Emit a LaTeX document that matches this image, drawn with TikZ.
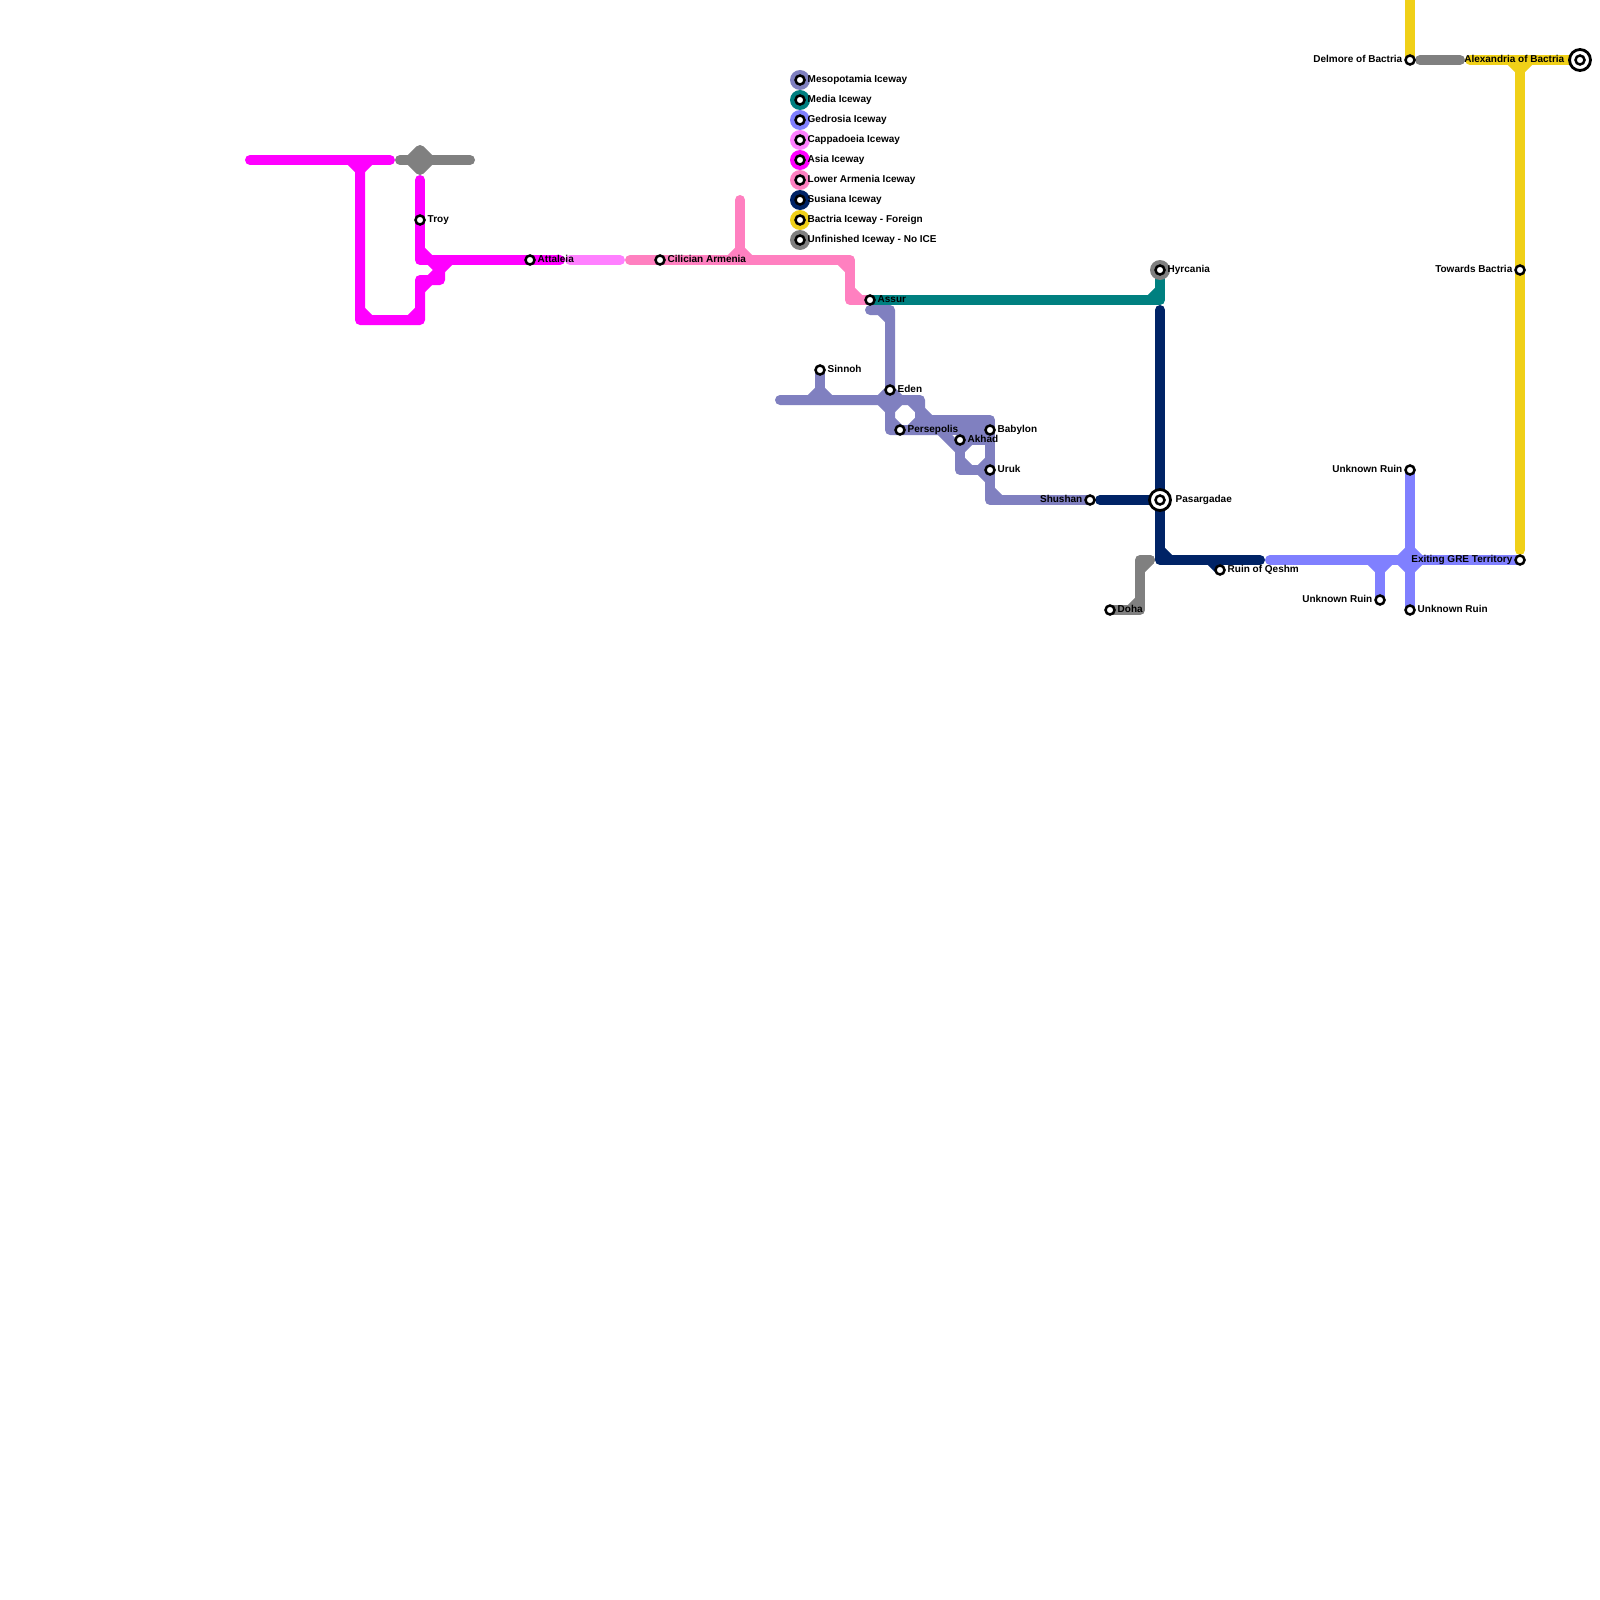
\documentclass[tikz,border=0pt]{standalone}
\usepackage{fontspec}
\setsansfont{Liberation Sans}
\usetikzlibrary{backgrounds, positioning}
\definecolor{mesopotamia}{HTML}{8080C0}
\definecolor{media}{HTML}{008080}
\definecolor{gedrosia}{HTML}{8080FF}
\definecolor{cappadocia}{HTML}{FF80FF}
\definecolor{asia}{HTML}{FF00FF}
\definecolor{armenia}{HTML}{FF80C0}
\definecolor{susiana}{HTML}{002366}
\definecolor{bactria}{HTML}{F0D018}
\definecolor{unfinished}{HTML}{808080}

\begin{document}
\begin{tikzpicture}[
  x=1pt, y=-1pt,
  every node/.style={font=\fontsize{10}{12}\selectfont\sffamily\bfseries, text=black},
  stn/.style={circle, draw=black, fill=white, line width=2.5pt, inner sep=0pt, minimum size=9pt},
  hub/.style={circle, draw=black, fill=white, line width=2.8pt, inner sep=0pt, minimum size=21pt},
  ring/.style={circle, fill=#1, inner sep=0pt, outer sep=0pt, minimum size=20pt},
  rlab/.style={anchor=base west, inner sep=0pt, xshift=7.5pt, yshift=-2.8pt},
  llab/.style={anchor=base east, inner sep=0pt, xshift=-7.5pt, yshift=-2.8pt},
  track/.style={draw=#1, line width=10pt, line cap=round, line join=round}
]
\useasboundingbox (0,0) rectangle (1600,1600);

% legend
\node[ring=mesopotamia] (r1) at (800,80) {};
\node[ring=media,       below=0pt of r1] (r2) {};
\node[ring=gedrosia,    below=0pt of r2] (r3) {};
\node[ring=cappadocia,  below=0pt of r3] (r4) {};
\node[ring=asia,        below=0pt of r4] (r5) {};
\node[ring=armenia,     below=0pt of r5] (r6) {};
\node[ring=susiana,     below=0pt of r6] (r7) {};
\node[ring=bactria,     below=0pt of r7] (r8) {};
\node[ring=unfinished,  below=0pt of r8] (r9) {};
\node[stn] (k1) at (r1) {}; \node[rlab] (t1) at (k1) {Mesopotamia Iceway};
\node[stn] (k2) at (r2) {}; \node[rlab] (t2) at (k2) {Media Iceway};
\node[stn] (k3) at (r3) {}; \node[rlab] (t3) at (k3) {Gedrosia Iceway};
\node[stn] (k4) at (r4) {}; \node[rlab] (t4) at (k4) {Cappadoeia Iceway};
\node[stn] (k5) at (r5) {}; \node[rlab] (t5) at (k5) {Asia Iceway};
\node[stn] (k6) at (r6) {}; \node[rlab] (t6) at (k6) {Lower Armenia Iceway};
\node[stn] (k7) at (r7) {}; \node[rlab] (t7) at (k7) {Susiana Iceway};
\node[stn] (k8) at (r8) {}; \node[rlab] (t8) at (k8) {Bactria Iceway - Foreign};
\node[stn] (k9) at (r9) {}; \node[rlab] (t9) at (k9) {Unfinished Iceway - No ICE};

% stations
\node[stn] (troy) at (420,220) {};       \node[rlab] (troyl) at (troy) {Troy};
\node[stn] (attaleia) at (530,260) {};   \node[rlab] (attaleial) at (attaleia) {Attaleia};
\node[stn] (cilician) at (660,260) {};   \node[rlab] (cilicianl) at (cilician) {Cilician Armenia};
\node[stn] (assur) at (870,300) {};      \node[rlab] (assurl) at (assur) {Assur};
\node[stn] (sinnoh) at (820,370) {};     \node[rlab] (sinnohl) at (sinnoh) {Sinnoh};
\node[stn] (eden) at (890,390) {};       \node[rlab] (edenl) at (eden) {Eden};
\node[stn] (persepolis) at (900,430) {}; \node[rlab] (persepolisl) at (persepolis) {Persepolis};
\node[stn] (akhad) at (960,440) {};      \node[rlab] (akhadl) at (akhad) {Akhad};
\node[stn] (babylon) at (990,430) {};    \node[rlab] (babylonl) at (babylon) {Babylon};
\node[stn] (uruk) at (990,470) {};       \node[rlab] (urukl) at (uruk) {Uruk};
\node[stn] (shushan) at (1090,500) {};   \node[llab] (shushanl) at (shushan) {Shushan};
\node[ring=unfinished] (hyrcaniar) at (1160,270) {};
\node[stn] (hyrcania) at (hyrcaniar) {}; \node[rlab] (hyrcanial) at (hyrcania) {Hyrcania};
\node[hub] (pasargadaeh) at (1160,500) {};
\node[stn] (pasargadae) at (pasargadaeh) {};
\node[rlab, xshift=8pt] (pasargadael) at (pasargadae) {Pasargadae};
\node[stn] (doha) at (1110,610) {};      \node[rlab] (dohal) at (doha) {Doha};
\node[stn] (qeshm) at (1220,570) {};     \node[rlab] (qeshml) at (qeshm) {Ruin of Qeshm};
\node[stn] (ruina) at (1410,470) {};     \node[llab] (ruinal) at (ruina) {Unknown Ruin};
\node[stn] (ruinb) at (1380,600) {};     \node[llab] (ruinbl) at (ruinb) {Unknown Ruin};
\node[stn] (ruinc) at (1410,610) {};     \node[rlab] (ruincl) at (ruinc) {Unknown Ruin};
\node[stn] (exiting) at (1520,560) {};   \node[llab] (exitingl) at (exiting) {Exiting GRE Territory};
\node[stn] (towards) at (1520,270) {};   \node[llab] (towardsl) at (towards) {Towards Bactria};
\node[stn] (delmore) at (1410,60) {};    \node[llab] (delmorel) at (delmore) {Delmore of Bactria};
\node[hub] (alexandriah) at (1580,60) {};
\node[stn] (alexandria) at (alexandriah) {};
\node[llab, xshift=-8pt] (alexandrial) at (alexandria) {Alexandria of Bactria};

\begin{scope}[on background layer]
% Asia
\draw[track=asia] (250,160) -- (390,160);
\draw[track=asia] (350,160) -- (360,170) -- (370,160);
\draw[track=asia] (360,160) -- (360,320) -- (420,320) -- (420,280) -- (440,280) -- (440,270) -- (450,260);
\draw[track=asia] (360,310) -- (370,320);
\draw[track=asia] (410,320) -- (420,310);
\draw[track=asia] (420,290) -- (430,280) -- (440,270) -- (430,260);
\draw[track=asia] (420,180) -- (troy.center) -- (420,260) -- (attaleia.center) -- (560,260);
\draw[track=asia] (420,250) -- (430,260);
% Cappadocia
\draw[track=cappadocia] (570,260) -- (620,260);
% Lower Armenia
\draw[track=armenia] (630,260) -- (cilician.center) -- (850,260) -- (850,300) -- (assur.center);
\draw[track=armenia] (740,200) -- (740,260);
\draw[track=armenia] (730,260) -- (740,250) -- (750,260);
\draw[track=armenia] (840,260) -- (850,270);
\draw[track=armenia] (850,290) -- (860,300);
% Unfinished
\draw[track=unfinished] (400,160) -- (470,160);
\draw[track=unfinished] (410,160) -- (420,150) -- (430,160) -- (420,170) -- cycle;
\draw[track=unfinished] (doha.center) -- (1140,610) -- (1140,560) -- (1150,560);
\draw[track=unfinished] (1130,610) -- (1140,600);
\draw[track=unfinished] (1140,570) -- (1150,560);
\draw[track=unfinished] (1420,60) -- (1460,60);
% Media
\draw[track=media] (assur.center) -- (1160,300) -- (hyrcania.center);
\draw[track=media] (1150,300) -- (1160,290);
% Mesopotamia
\draw[track=mesopotamia] (870,310) -- (890,310) -- (eden.center) -- (890,430) -- (persepolis.center) -- (940,430) -- (960,450);
\draw[track=mesopotamia] (880,310) -- (890,320);
\draw[track=mesopotamia] (780,400) -- (920,400) -- (920,420) -- (babylon.center);
\draw[track=mesopotamia] (920,420) -- (990,420) -- (uruk.center) -- (990,500) -- (shushan.center);
\draw[track=mesopotamia] (sinnoh.center) -- (820,400);
\draw[track=mesopotamia] (810,400) -- (820,390) -- (830,400);
\draw[track=mesopotamia] (880,400) -- (eden.center) -- (900,400);
\draw[track=mesopotamia] (880,400) -- (890,410) -- (900,400);
\draw[track=mesopotamia] (910,400) -- (930,420);
\draw[track=mesopotamia] (890,420) -- (900,430);
\draw[track=mesopotamia] (910,430) -- (920,420);
\draw[track=mesopotamia] (persepolis.center) -- (babylon.center);
\draw[track=mesopotamia] (akhad.center) -- (960,470) -- (uruk.center);
\draw[track=mesopotamia] (akhad.center) -- (990,440);
\draw[track=mesopotamia] (960,450) -- (970,440);
\draw[track=mesopotamia] (960,460) -- (970,470);
\draw[track=mesopotamia] (980,470) -- (990,460);
\draw[track=mesopotamia] (980,470) -- (990,480);
\draw[track=mesopotamia] (990,490) -- (1000,500);
% Bactria
\draw[track=bactria] (1410,0) -- (delmore.center);
\draw[track=bactria] (1470,60) -- (alexandria.center);
\draw[track=bactria] (1520,60) -- (towards.center) -- (1520,550);
\draw[track=bactria] (1510,60) -- (1520,70) -- (1530,60);
% Gedrosia
\draw[track=gedrosia] (1270,560) -- (exiting.center);
\draw[track=gedrosia] (ruina.center) -- (ruinc.center);
\draw[track=gedrosia] (1380,560) -- (ruinb.center);
\draw[track=gedrosia] (1370,560) -- (1380,570) -- (1390,560);
\draw[track=gedrosia] (1400,560) -- (1410,550) -- (1420,560) -- (1410,570) -- cycle;
% Susiana
\draw[track=susiana] (1160,310) -- (pasargadae.center) -- (1160,560) -- (1260,560);
\draw[track=susiana] (1100,500) -- (pasargadae.center);
\draw[track=susiana] (1160,550) -- (1170,560);
\draw[track=susiana] (1210,560) -- (qeshm.center);
\end{scope}
\end{tikzpicture}
\end{document}
